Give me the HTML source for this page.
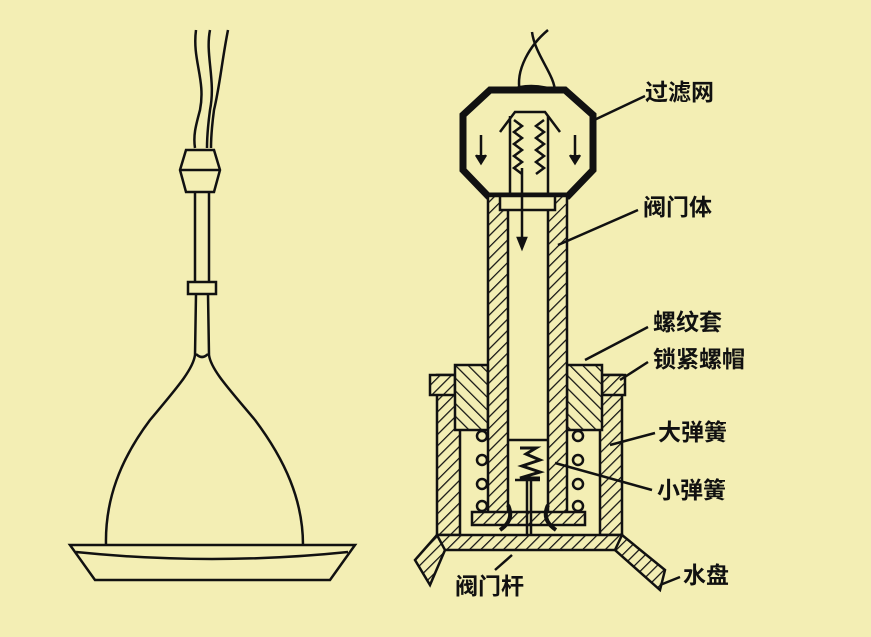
<!DOCTYPE html>
<html><head><meta charset="utf-8"><style>
body{margin:0;background:#f3eeb4;}
svg{display:block}
text{font-family:"Liberation Sans","Noto Sans CJK SC",sans-serif;font-weight:bold;font-size:23px;fill:#111}
</style></head><body>
<svg width="871" height="637" viewBox="0 0 871 637">
<defs>
<pattern id="h" width="8" height="8" patternUnits="userSpaceOnUse" patternTransform="rotate(45)">
<rect width="8" height="8" fill="#f3eeb4"/><line x1="0" y1="0" x2="0" y2="8" stroke="#111" stroke-width="2.5"/></pattern>
<pattern id="h2" width="9" height="9" patternUnits="userSpaceOnUse" patternTransform="rotate(-45)">
<rect width="9" height="9" fill="#f3eeb4"/><line x1="0" y1="0" x2="0" y2="9" stroke="#111" stroke-width="2.5"/></pattern>
</defs>
<rect width="871" height="637" fill="#f3eeb4"/>
<g fill="none" stroke="#111" stroke-width="2.5">
<!-- left lamp -->
<path d="M196 30 C192 60,206 80,200 110 C196 125,193 135,195 148"/>
<path d="M210 30 C205 55,216 80,210 110 C208 125,207 135,207 148"/>
<path d="M228 30 C222 60,220 85,214 110 C212 125,211 135,211 148"/>
<path d="M186 150 L214 150 L220 170 L214 192 L186 192 L180 170 Z" fill="#f3eeb4"/>
<line x1="180" y1="170" x2="220" y2="170"/>
<path d="M195 192 L195 282 M209 192 L209 282"/>
<rect x="188" y="282" width="28" height="12" fill="#f3eeb4"/>
<path d="M196 294 L195 355 C193 370,175 390,150 420 C120 460,105 500,106 545"/>
<path d="M208 294 L209 355 C211 370,230 390,255 420 C285 460,303 500,303 545"/>
<path d="M196 354 Q202 360 208 354"/>
<path d="M70 545 L355 545 L330 580 L95 580 Z"/>
<path d="M76 552 Q212 566 348 552"/>
<!-- top wires -->
<path d="M548 30 C530 45,515 70,520 92 M532 32 C535 55,555 75,555 92"/>
<path d="M505 92 Q530 80 560 92"/>
<!-- octagon -->
<path d="M490 90 L565 90 L593 115 L593 170 L568 196 L488 196 L463 170 L463 115 Z" stroke-width="7"/>
<path d="M500 132 L515 112 L545 112 L560 132"/>
<path d="M510 116 L510 196 M548 116 L548 196"/>
<path d="M514 120 l8 6 -8 6 8 6 -8 6 8 6 -8 6 8 6 -8 6 8 6 M544 120 l-8 6 8 6 -8 6 8 6 -8 6 8 6 -8 6 8 6 -8 6"/>
<path d="M481 135 L481 160 M575 135 L575 160"/>
<path d="M476 155 l5 8 5 -8 M570 155 l5 8 5 -8" fill="#111"/>
<!-- lock nut & sleeve -->
<rect x="437" y="375" width="23" height="160" fill="url(#h)"/>
<rect x="600" y="375" width="22" height="160" fill="url(#h)"/>
<rect x="430" y="375" width="25" height="20" fill="url(#h)"/>
<rect x="602" y="375" width="23" height="20" fill="url(#h)"/>
<rect x="455" y="365" width="33" height="65" fill="url(#h2)"/>
<rect x="567" y="365" width="35" height="65" fill="url(#h2)"/>
<!-- tube -->
<rect x="488" y="196" width="20" height="320" fill="url(#h)"/>
<rect x="548" y="196" width="19" height="320" fill="url(#h)"/>
<rect x="500" y="196" width="55" height="14" fill="#f3eeb4"/>
<line x1="522" y1="168" x2="522" y2="245"/>
<path d="M518 238 l4 10 4 -10z" fill="#111"/>
<!-- springs -->
<circle cx="482" cy="436" r="5"/><circle cx="482" cy="460" r="5"/><circle cx="482" cy="484" r="5"/><circle cx="482" cy="506" r="5"/>
<circle cx="578" cy="436" r="5"/><circle cx="578" cy="460" r="5"/><circle cx="578" cy="484" r="5"/><circle cx="578" cy="506" r="5"/>
<path d="M472 512 L585 512 L585 525 L472 525 Z" fill="url(#h)"/>
<path d="M508 440 L548 440"/>
<path d="M520 448 l16 0 -10 6 14 6 -18 6 18 6 -20 6 20 0" stroke-width="3"/>
<path d="M515 480 L540 480 M527 480 L527 545 M531 480 L531 545"/>
<path d="M508 505 Q515 520 500 530 M548 505 Q541 520 556 530" stroke-width="4"/>
<!-- base -->
<rect x="437" y="535" width="185" height="15" fill="url(#h)"/>
<path d="M437 535 L415 560 L430 585 L445 550 Z" fill="url(#h)"/>
<path d="M622 535 L665 570 L660 590 L615 550 Z" fill="url(#h)"/>
<!-- leaders -->
<line x1="590" y1="122" x2="645" y2="96"/>
<line x1="558" y1="245" x2="638" y2="210"/>
<line x1="585" y1="360" x2="648" y2="327"/>
<line x1="620" y1="380" x2="648" y2="362"/>
<line x1="610" y1="445" x2="655" y2="433"/>
<line x1="555" y1="463" x2="652" y2="490"/>
<line x1="660" y1="585" x2="680" y2="577"/>
<line x1="495" y1="570" x2="512" y2="555"/>
</g>
<text x="645" y="100">过滤网</text>
<text x="643" y="215">阀门体</text>
<text x="653" y="330">螺纹套</text>
<text x="653" y="367">锁紧螺帽</text>
<text x="658" y="440">大弹簧</text>
<text x="657" y="498">小弹簧</text>
<text x="683" y="583">水盘</text>
<text x="455" y="594">阀门杆</text>
</svg>
</body></html>
